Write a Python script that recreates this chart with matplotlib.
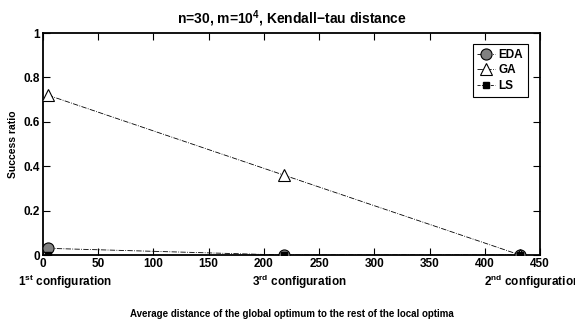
import matplotlib
matplotlib.use('Agg')
import matplotlib.pyplot as plt

# fonts: Helvetica-like bold everywhere
plt.rcParams['font.family'] = ['Liberation Sans', 'DejaVu Sans']
plt.rcParams['font.weight'] = 'bold'
plt.rcParams['mathtext.fontset'] = 'custom'
plt.rcParams['mathtext.rm'] = 'Liberation Sans:bold'
plt.rcParams['mathtext.it'] = 'Liberation Sans:bold'
plt.rcParams['mathtext.bf'] = 'Liberation Sans:bold'

# data
dist = [4.5, 218, 432]
eda = [0.03, 0.0, 0.0]
ga = [0.72, 0.36, 0.0]
ls = [0.0, 0.0, 0.0]
config_labels = [r'1$^{st}$ configuration', r'3$^{rd}$ configuration', r'2$^{nd}$ configuration']
label_offset = [15, 14, 11]

fig = plt.figure(figsize=(5.75, 3.2), dpi=100)
ax = fig.add_axes([43/575, 1-255/320, (540-43)/575, (255-33)/320])

ax.plot(dist, eda, linestyle='-.', color='black', lw=0.6, marker='o', ms=8,
        mfc='#808080', mec='black', mew=0.8, label='EDA', zorder=3)
ax.plot(dist, ga, linestyle='-.', color='black', lw=0.6, marker='^', ms=8,
        mfc='white', mec='black', mew=0.8, label='GA', zorder=3)
ax.plot(dist, ls, linestyle='--', color='black', lw=0.6, marker='s', ms=5,
        mfc='black', mec='black', label='LS', zorder=3)

ax.set_xlim(0, 450)
ax.set_ylim(0, 1)
ax.set_xticks(range(0, 451, 50))
ax.set_yticks([0, 0.2, 0.4, 0.6, 0.8, 1])
ax.set_yticklabels(['0', '0.2', '0.4', '0.6', '0.8', '1'])
ax.tick_params(direction='in', length=5, width=0.8, top=True, right=True,
               labelsize=8.5, pad=2)
for s in ax.spines.values():
    s.set_linewidth(1.3)

# configuration labels under the tick labels
for x, lab, off in zip(dist, config_labels, label_offset):
    ax.annotate(lab, xy=(x + off, 0), xycoords=('data', 'axes fraction'),
                xytext=(0, -19.5), textcoords='offset points',
                ha='center', va='center', fontsize=8.5, fontweight='bold',
                annotation_clip=False)

ax.set_title(r'n=30, m=10$^{4}$, Kendall−tau distance', fontsize=10,
             fontweight='bold', pad=7)
ax.set_ylabel('Success ratio', fontsize=7.5, fontweight='bold', labelpad=4)
ax.set_xlabel('Average distance of the global optimum to the rest of the local optima',
              fontsize=7, fontweight='bold', labelpad=28)

leg = ax.legend(loc='upper right', bbox_to_anchor=(0.976, 0.95), borderaxespad=0,
                fontsize=8.5, handlelength=1.5, handletextpad=0.3, borderpad=0.4,
                labelspacing=0.3, fancybox=False, edgecolor='black',
                framealpha=1)
leg.get_frame().set_linewidth(0.8)

plt.savefig('out.png', dpi=100)
